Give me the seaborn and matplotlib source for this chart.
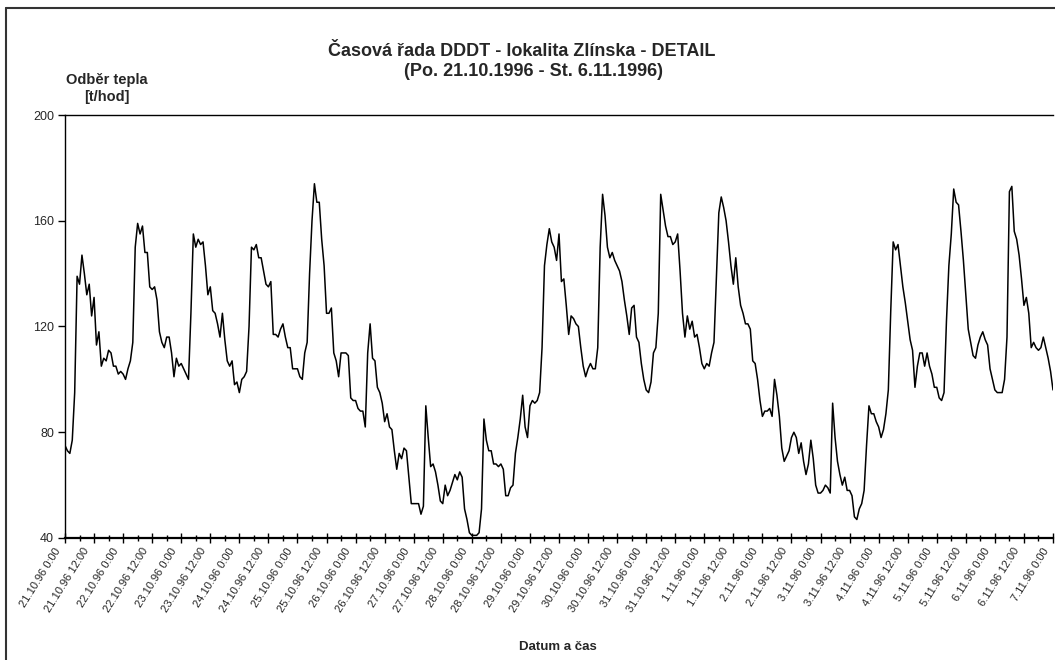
import matplotlib
matplotlib.use("Agg")
import matplotlib.pyplot as plt
from matplotlib.lines import Line2D
from matplotlib.transforms import ScaledTranslation
import numpy as np
import pandas as pd
import seaborn as sns

# Hourly heat consumption [t/hod], one list per day (0:00 ... 23:00)
day_21_10 = [75, 73, 72, 77, 95, 139, 136, 147, 140, 132, 136, 124, 131, 113, 118, 105, 108, 107, 111, 110, 105, 105, 102, 103]
day_22_10 = [102, 100, 104, 107, 114, 150, 159, 155, 158, 148, 148, 135, 134, 135, 130, 118, 114, 112, 116, 116, 110, 101, 108, 105]
day_23_10 = [106, 104, 102, 100, 125, 155, 150, 153, 151, 152, 143, 132, 135, 126, 125, 121, 116, 125, 115, 107, 105, 107, 98, 99]
day_24_10 = [95, 100, 101, 103, 120, 150, 149, 151, 146, 146, 141, 136, 135, 137, 117, 117, 116, 119, 121, 116, 112, 112, 104, 104]
day_25_10 = [104, 101, 100, 110, 114, 140, 160, 174, 167, 167, 153, 143, 125, 125, 127, 110, 107, 101, 110, 110, 110, 109, 93, 92]
day_26_10 = [92, 89, 88, 88, 82, 110, 121, 108, 107, 97, 95, 91, 84, 87, 82, 81, 73, 66, 72, 70, 74, 73, 63, 53]
day_27_10 = [53, 53, 53, 49, 52, 90, 78, 67, 68, 65, 60, 54, 53, 60, 56, 58, 61, 64, 62, 65, 63, 51, 47, 42]
day_28_10 = [41, 41, 41, 42, 51, 85, 77, 73, 73, 68, 68, 67, 68, 66, 56, 56, 59, 60, 72, 78, 85, 94, 82, 78]
day_29_10 = [90, 92, 91, 92, 95, 112, 143, 151, 157, 152, 150, 145, 155, 137, 138, 128, 117, 124, 123, 121, 120, 112, 105, 101]
day_30_10 = [104, 106, 104, 104, 112, 150, 170, 162, 150, 146, 148, 145, 143, 141, 137, 130, 124, 117, 127, 128, 116, 114, 106, 100]
day_31_10 = [96, 95, 99, 110, 112, 125, 170, 164, 158, 154, 154, 151, 152, 155, 141, 125, 116, 124, 119, 122, 116, 117, 112, 106]
day_01_11 = [104, 106, 105, 110, 114, 139, 163, 169, 165, 160, 152, 143, 136, 146, 135, 128, 125, 121, 121, 119, 107, 106, 100, 92]
day_02_11 = [86, 88, 88, 89, 86, 100, 94, 86, 74, 69, 71, 73, 78, 80, 78, 72, 76, 69, 64, 68, 77, 70, 60, 57]
day_03_11 = [57, 58, 60, 59, 57, 91, 78, 69, 64, 60, 63, 58, 58, 56, 48, 47, 51, 53, 58, 75, 90, 87, 87, 84]
day_04_11 = [82, 78, 81, 87, 96, 126, 152, 149, 151, 143, 135, 129, 122, 115, 111, 97, 105, 110, 110, 105, 110, 105, 102, 97]
day_05_11 = [97, 93, 92, 95, 122, 143, 155, 172, 167, 166, 156, 145, 132, 119, 114, 109, 108, 113, 116, 118, 115, 113, 104, 100]
day_06_11 = [96, 95, 95, 95, 100, 116, 171, 173, 156, 153, 147, 138, 128, 131, 125, 112, 114, 112, 111, 112, 116, 112, 108, 103]
midnight_07_11 = [96]

days = [day_21_10, day_22_10, day_23_10, day_24_10, day_25_10, day_26_10,
        day_27_10, day_28_10, day_29_10, day_30_10, day_31_10, day_01_11,
        day_02_11, day_03_11, day_04_11, day_05_11, day_06_11, midnight_07_11]
values = [v for d in days for v in d]

start = pd.Timestamp("1996-10-21 00:00")
times = pd.date_range(start, periods=len(values), freq="h")
df = pd.DataFrame({"hour": np.arange(len(values)), "odber": values})

# Axis tick labels every 12 hours
tick_hours = list(range(0, len(values), 12))
tick_labels = [f"{times[h].day}.{times[h].month}.{times[h].strftime('%y')} {times[h].hour}:00"
               for h in tick_hours]
y_ticks = [40, 80, 120, 160, 200]

sns.set_theme(style="white")
plt.rcParams["font.family"] = ["Liberation Sans", "DejaVu Sans"]

W, H = 1055, 660
fig = plt.figure(figsize=(W / 100, H / 100), dpi=100)
fig.patch.set_facecolor("white")
ax = fig.add_axes([65 / W, 122 / H, 988 / W, 423 / H])

sns.lineplot(data=df, x="hour", y="odber", color="black", linewidth=1.1, ax=ax)

ax.set_xlim(0, len(values) - 1)
ax.set_ylim(40, 200)
ax.set_yticks(y_ticks)
ax.set_yticklabels([str(t) for t in y_ticks], fontsize=9)
ax.set_xticks(tick_hours)
ax.set_xticklabels([])
ax.set_xticks(range(6, len(values), 12), minor=True)
ax.set_xlabel("")
ax.set_ylabel("")

# slanted date labels, set slightly left of their ticks
label_tr = ax.get_xaxis_transform() + ScaledTranslation(-8 / 72, -6 / 72, fig.dpi_scale_trans)
for h, lab in zip(tick_hours, tick_labels):
    ax.text(h, 0, lab, transform=label_tr, rotation=58, ha="right", va="top",
            rotation_mode="anchor", fontsize=8, clip_on=False)

ax.spines["right"].set_visible(False)
ax.spines["top"].set_linewidth(1.0)
ax.spines["left"].set_linewidth(1.0)
ax.spines["bottom"].set_linewidth(1.6)
for s in ax.spines.values():
    s.set_color("black")

ax.tick_params(axis="y", direction="out", length=5, width=1, color="black", pad=3, left=True)
ax.tick_params(axis="x", which="major", direction="inout", length=7, width=1, color="black", pad=4, bottom=True)
ax.tick_params(axis="x", which="minor", direction="inout", length=4, width=1, color="black", bottom=True)
ax.grid(False)

# Titles and axis captions
fig.text(522 / W, 1 - 52 / H, "Časová řada DDDT - lokalita Zlínska - DETAIL",
         ha="center", va="center", fontsize=13, fontweight="bold")
fig.text(533 / W, 1 - 71 / H, "(Po. 21.10.1996 - St. 6.11.1996)",
         ha="center", va="center", fontsize=13, fontweight="bold")
fig.text(107 / W, 1 - 80 / H, "Odběr tepla", ha="center", va="center",
         fontsize=10.5, fontweight="bold")
fig.text(107 / W, 1 - 97 / H, "[t/hod]", ha="center", va="center",
         fontsize=10.5, fontweight="bold")
fig.text(558 / W, 1 - 647 / H, "Datum a čas", ha="center", va="center",
         fontsize=9.5, fontweight="bold")

# Chart frame
fig.add_artist(Line2D([6 / W, 1], [1 - 8 / H, 1 - 8 / H], color="#333333", linewidth=1.5))
fig.add_artist(Line2D([6 / W, 6 / W], [0, 1 - 8 / H], color="#333333", linewidth=1.5))

fig.savefig("out.png", dpi=100, facecolor="white")
